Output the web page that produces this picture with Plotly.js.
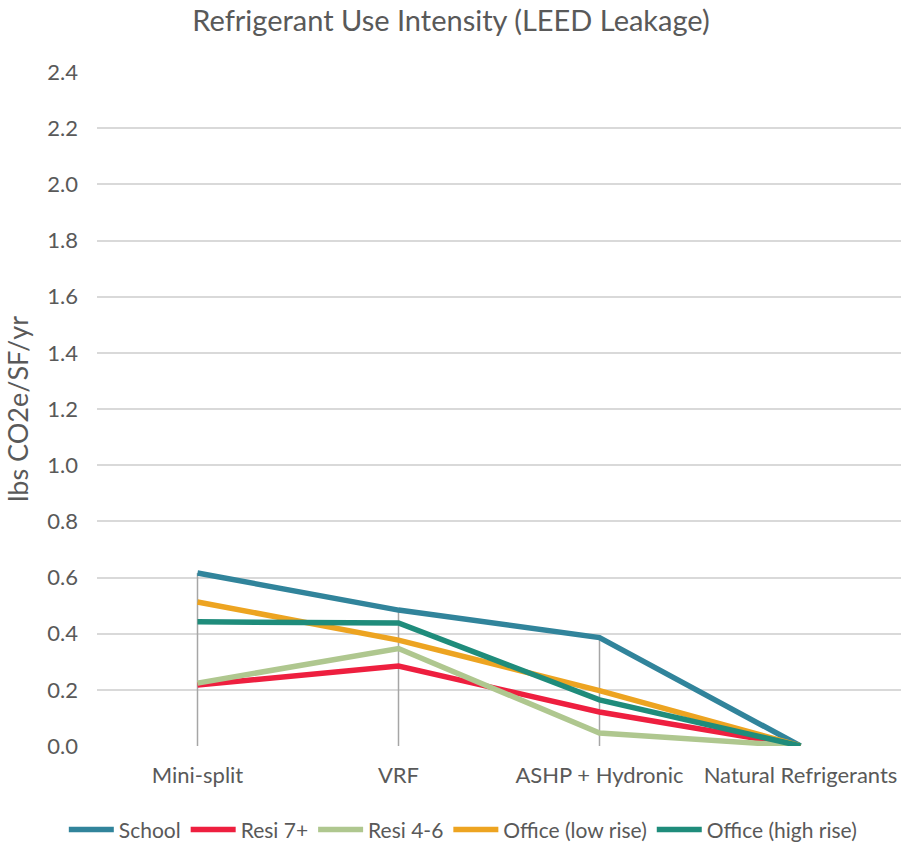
<!DOCTYPE html>
<html>
<head>
<meta charset="utf-8">
<script src="https://cdn.plot.ly/plotly-3.0.1.min.js"></script>
<style>html,body{margin:0;padding:0;background:#fff;}#chart{width:902px;height:846px;}</style>
</head>
<body>
<div id="chart"></div>
<script>
var categories = ["Mini-split", "VRF", "ASHP + Hydronic", "Natural Refrigerants"];
var school = [0.616, 0.484, 0.386, 0.0];
var resi7 = [0.217, 0.285, 0.121, 0.0];
var resi46 = [0.224, 0.347, 0.046, 0.0];
var officeLow = [0.513, 0.377, 0.197, 0.0];
var officeHigh = [0.442, 0.438, 0.164, 0.0];
var seriesNames = ["School", "Resi 7+", "Resi 4-6", "Office (low rise)", "Office (high rise)"];
var seriesColors = ["#31849B", "#EE1F3F", "#AFC78F", "#EDA421", "#1F8C7B"];
var yTicks = [0, 0.2, 0.4, 0.6, 0.8, 1.0, 1.2, 1.4, 1.6, 1.8, 2.0, 2.2, 2.4];

var allSeries = [school, resi7, resi46, officeLow, officeHigh];

// drop lines (from highest series value down to zero)
var dx = [], dy = [];
categories.forEach(function(c, i){
  var m = Math.max.apply(null, allSeries.map(function(s){return s[i];}));
  if (m > 0) { dx.push(c, c, null); dy.push(m, 0, null); }
});

var traces = [{
  x: dx, y: dy, mode: "lines", type: "scatter", showlegend: false, hoverinfo: "skip",
  line: {color: "#A6A6A6", width: 1.5}
}];
allSeries.forEach(function(s, k){
  traces.push({
    x: categories, y: s, name: seriesNames[k], mode: "lines", type: "scatter",
    line: {color: seriesColors[k], width: 5.5}
  });
});

var font = "Lato, 'Open Sans', sans-serif";
var layout = {
  width: 902, height: 846,
  margin: {l: 97, r: 1, t: 72, b: 100, autoexpand: false},
  paper_bgcolor: "#fff", plot_bgcolor: "#fff",
  font: {family: font, color: "#595959", size: 16},
  title: {text: "Refrigerant Use Intensity (LEED Leakage)", font: {family: font, size: 29, color: "#595959"}, x: 0.5, xanchor: "center", y: 0.975, yanchor: "middle"},
  xaxis: {type: "category", range: [-0.5, 3.5], showgrid: false, zeroline: false, showline: false, ticks: "", ticklabelstandoff: 14, tickfont: {size: 22, color: "#595959"}},
  yaxis: {range: [0, 2.4], tickvals: yTicks, ticktext: yTicks.map(function(v){return v.toFixed(1);}), showgrid: true, gridcolor: "#D9D9D9", gridwidth: 1.5, zeroline: false, showline: false, ticks: "", ticklen: 0, ticklabelstandoff: 18, tickfont: {size: 22, color: "#595959"},
    title: {text: "lbs CO2e/SF/yr", font: {size: 27, color: "#595959"}, standoff: 10}},
  legend: {orientation: "h", x: 0.455, xanchor: "center", yref: "container", y: 0.019, yanchor: "middle", font: {size: 21, color: "#595959"}, itemwidth: 45, tracegroupgap: 0},
  showlegend: true
};
Plotly.newPlot("chart", traces, layout, {displayModeBar: false});
</script>
</body>
</html>
